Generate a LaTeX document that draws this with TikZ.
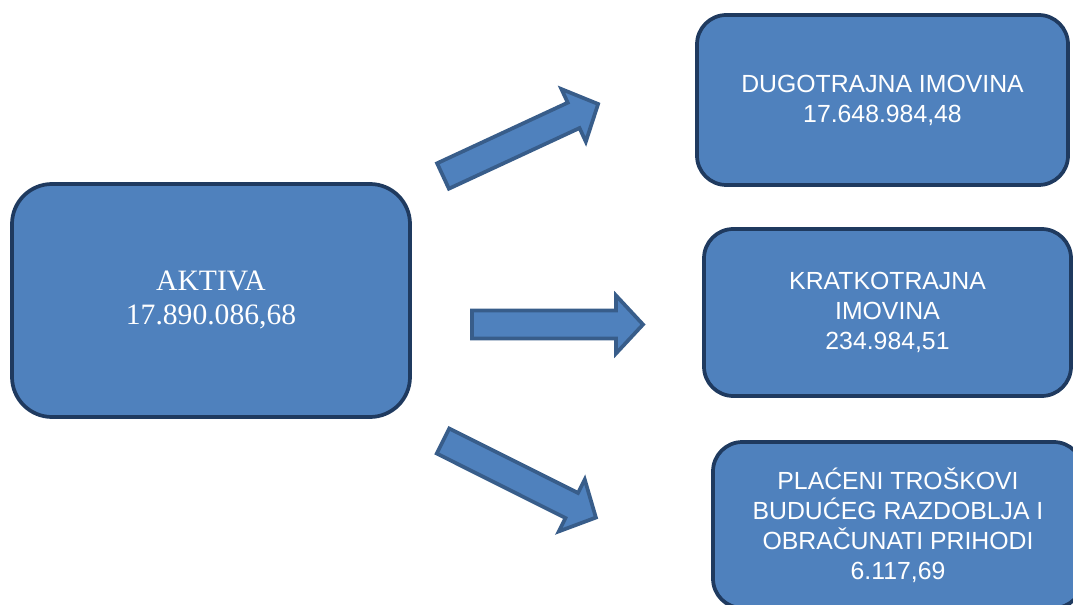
\documentclass[tikz,border=0pt]{standalone}
\usepackage{fontspec}
\setmainfont{Liberation Sans}
\newfontfamily\timesfont{Liberation Serif}
\definecolor{boxfill}{HTML}{4F81BD}
\definecolor{boxline}{HTML}{1F3A5F}
\definecolor{arrline}{HTML}{385D8A}
\tikzset{
  box/.style={draw=boxline, fill=boxfill, line width=2.8pt, text=white, align=center, inner sep=0pt},
  sansbox/.style={box, rounded corners=22pt, font=\fontsize{18.6}{22.5}\selectfont},
  blockarrow/.pic={
    \draw[draw=arrline, fill=boxfill, line width=2.8pt, line join=miter]
      (0,-14) -- (144,-14) -- (144,-29) -- (171,0) -- (144,29) -- (144,14) -- (0,14) -- cycle;
  }
}
\begin{document}
\begin{tikzpicture}[x=0.75pt, y=-0.75pt]
\useasboundingbox (0,0) rectangle (1073,605);
\clip (0,0) rectangle (1073,605);
\node[box, rounded corners=30pt, minimum width=298.5pt, minimum height=174.75pt,
      font=\timesfont\fontsize{22.2}{25.5}\selectfont] (aktiva) at (211,300.5)
  {AKTIVA\\17.890.086,68};
\node[sansbox, minimum width=278.25pt, minimum height=127.5pt] (dugo) at (882.5,100)
  {DUGOTRAJNA IMOVINA\\17.648.984,48};
\node[sansbox, minimum width=275.25pt, minimum height=125.25pt] (kratko) at (887.5,312.5)
  {KRATKOTRAJNA\\IMOVINA\\234.984,51};
\node[sansbox, minimum width=277.5pt, minimum height=124.5pt] (placeni) at (898,525)
  {PLAĆENI TROŠKOVI\\BUDUĆEG RAZDOBLJA I\\OBRAČUNATI PRIHODI\\6.117,69};
\coordinate (t1) at (443,176);
\coordinate (t2) at (472,324.5);
\coordinate (t3) at (443,441);
\pic[rotate=24.9] (arrowup) at (t1) {blockarrow};
\pic (arrowmid) at (t2) {blockarrow};
\pic[rotate=-26.6] (arrowdown) at (t3) {blockarrow};
\end{tikzpicture}
\end{document}
